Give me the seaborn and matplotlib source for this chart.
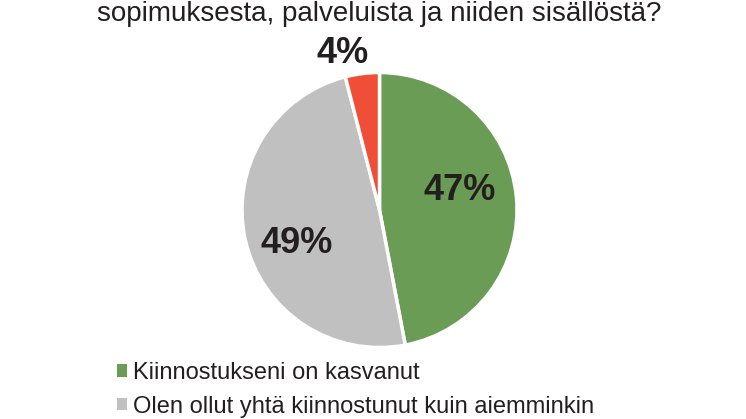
import matplotlib
matplotlib.use("Agg")
import matplotlib.pyplot as plt
import seaborn as sns
from matplotlib.patches import Patch

# ---- data ----
categories = ["Kiinnostukseni on kasvanut",
              "Olen ollut yhtä kiinnostunut kuin aiemminkin",
              "Muu"]
values = [47, 49, 4]
pct_labels = ["47%", "49%", "4%"]
colors = ["#6a9c55", "#c0c0c0", "#ef4f37"]
title_line = "sopimuksesta, palveluista ja niiden sisällöstä?"

sns.set_theme(style="white")
plt.rcParams["font.family"] = ["Liberation Sans", "DejaVu Sans"]

W, H = 746, 419
fig = plt.figure(figsize=(W / 100, H / 100), dpi=100)

cx, cy, r = 379.5, 210, 137.5
ax = fig.add_axes([(cx - r) / W, (H - cy - r) / H, 2 * r / W, 2 * r / H])
wedges, _ = ax.pie(values, colors=sns.color_palette(colors), startangle=90,
                   counterclock=False, radius=1,
                   wedgeprops=dict(edgecolor="white", linewidth=2.5))
ax.set_xlim(-1, 1)
ax.set_ylim(-1, 1)
ax.set_aspect("equal")
ax.axis("off")

# label placement (layout, data units of the pie; baseline anchored)
label_pos = [(0.58, 0.073), (-0.60, -0.313), (-0.27, 1.069)]
for (lx, ly), txt in zip(label_pos, pct_labels):
    ax.text(lx, ly, txt, ha="center", va="baseline", fontsize=26,
            fontweight="bold", color="#231f20", clip_on=False)

fig.text(cx / W, (H - 21) / H, title_line, ha="center", va="baseline",
         fontsize=20, color="#231f20")

handles = [Patch(facecolor=c, edgecolor="none") for c in colors[:2]]
fig.legend(handles, categories[:2], loc="upper left",
           bbox_to_anchor=(117 / W, (H - 362) / H), frameon=False,
           fontsize=17, handlelength=0.42, handleheight=0.42,
           handletextpad=0.25, labelspacing=0.5, borderpad=0,
           borderaxespad=0, labelcolor="#231f20")

fig.savefig("out.png", dpi=100)
